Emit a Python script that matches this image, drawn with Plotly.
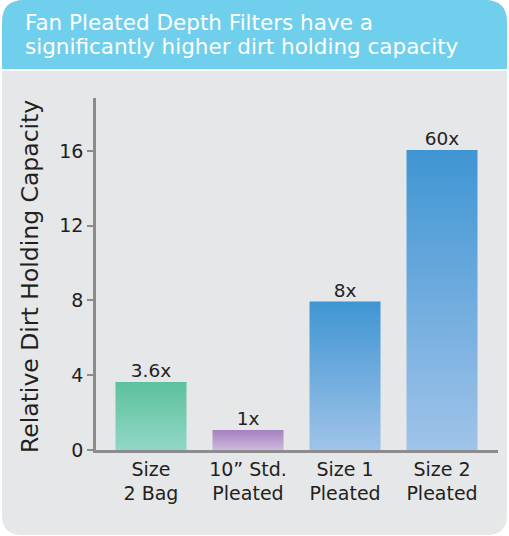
import plotly.graph_objects as go

# ---- data ----
categories = ["Size<br>2 Bag", "10\u201d Std.<br>Pleated", "Size 1<br>Pleated", "Size 2<br>Pleated"]
values = [3.64, 1.07, 7.94, 16.05]
value_labels = ["3.6x", "1x", "8x", "60x"]
y_ticks = [0, 4, 8, 12, 16]
top_colors = ["#5cc29d", "#a580bf", "#3f95d3", "#3f95d3"]
bottom_colors = ["#91d6c6", "#cdb9df", "#a0c3e9", "#a0c3e9"]

title_lines = ["Fan Pleated Depth Filters have a", "significantly higher dirt holding capacity"]
y_title = "Relative Dirt Holding Capacity"

W, H = 509, 536
L, R, T, B = 96, 11, 98, 86
PW, PH = W - L - R, H - T - B
FONT = "DejaVu Sans"
BAR_HALF = 0.366


def px(x):
    return (x - L) / PW


def py(y):
    return (H - B - y) / PH


def rrect(x0, y0, x1, y1, rtl, rtr, rbr, rbl):
    pts = []
    pts.append(f"M {px(x0 + rtl)},{py(y0)}")
    pts.append(f"L {px(x1 - rtr)},{py(y0)}")
    pts.append(f"Q {px(x1)},{py(y0)} {px(x1)},{py(y0 + rtr)}")
    pts.append(f"L {px(x1)},{py(y1 - rbr)}")
    pts.append(f"Q {px(x1)},{py(y1)} {px(x1 - rbr)},{py(y1)}")
    pts.append(f"L {px(x0 + rbl)},{py(y1)}")
    pts.append(f"Q {px(x0)},{py(y1)} {px(x0)},{py(y1 - rbl)}")
    pts.append(f"L {px(x0)},{py(y0 + rtl)}")
    pts.append(f"Q {px(x0)},{py(y0)} {px(x0 + rtl)},{py(y0)}")
    pts.append("Z")
    return " ".join(pts)


fig = go.Figure()

for i, v in enumerate(values):
    xs = [i - BAR_HALF, i + BAR_HALF, i + BAR_HALF, i - BAR_HALF, i - BAR_HALF]
    ys = [0, 0, v, v, 0]
    fig.add_trace(go.Scatter(
        x=xs, y=ys, mode="lines", fill="toself",
        line=dict(width=0),
        fillgradient=dict(type="vertical",
                          colorscale=[[0, bottom_colors[i]], [1, top_colors[i]]]),
        hoverinfo="skip", showlegend=False,
    ))

fig.add_trace(go.Scatter(
    x=list(range(len(values))), y=values, mode="text",
    text=value_labels, textposition="top center",
    textfont=dict(family=FONT, size=18.5, color="#222222"),
    showlegend=False, hoverinfo="skip",
))

shapes = [
    dict(type="path", xref="paper", yref="paper", layer="below",
         path=rrect(2, 71, 507, 535, 0, 0, 20, 20),
         fillcolor="#e6e7e8", line=dict(width=0)),
    dict(type="path", xref="paper", yref="paper", layer="below",
         path=rrect(2, 0, 507, 69, 22, 22, 0, 0),
         fillcolor="#70cfec", line=dict(width=0)),
]

annotations = [
    dict(text=line, xref="paper", yref="paper", x=px(23), y=py(8 + 23.5 * k),
         xanchor="left", yanchor="top", align="left", showarrow=False,
         font=dict(family=FONT, size=21.5, color="white"))
    for k, line in enumerate(title_lines)
] + [
    dict(text=y_title, xref="paper", yref="paper", x=px(30), y=py(277),
         xanchor="center", yanchor="middle", textangle=-90, showarrow=False,
         font=dict(family=FONT, size=23.5, color="#231f20")),
]

fig.update_layout(
    width=W, height=H,
    margin=dict(l=L, r=R, t=T, b=B, pad=0),
    paper_bgcolor="white",
    plot_bgcolor="rgba(0,0,0,0)",
    shapes=shapes,
    annotations=annotations,
    xaxis=dict(range=[-0.567, 3.577], tickvals=list(range(len(categories))),
               ticktext=categories, showgrid=False, zeroline=False,
               showline=True, linecolor="#8c8c8c", linewidth=2.5,
               ticks="", tickfont=dict(family=FONT, size=19, color="#231f20"),
               fixedrange=True),
    yaxis=dict(range=[0, 18.83], tickvals=y_ticks, showgrid=False, zeroline=False,
               showline=True, linecolor="#8c8c8c", linewidth=2.5,
               ticks="outside", ticklen=6, tickwidth=2, tickcolor="#8c8c8c",
               tickfont=dict(family=FONT, size=19, color="#231f20"),
               fixedrange=True),
)

fig.write_html("out.html", config={"displayModeBar": False},
               post_script="document.body.style.margin='0';")
